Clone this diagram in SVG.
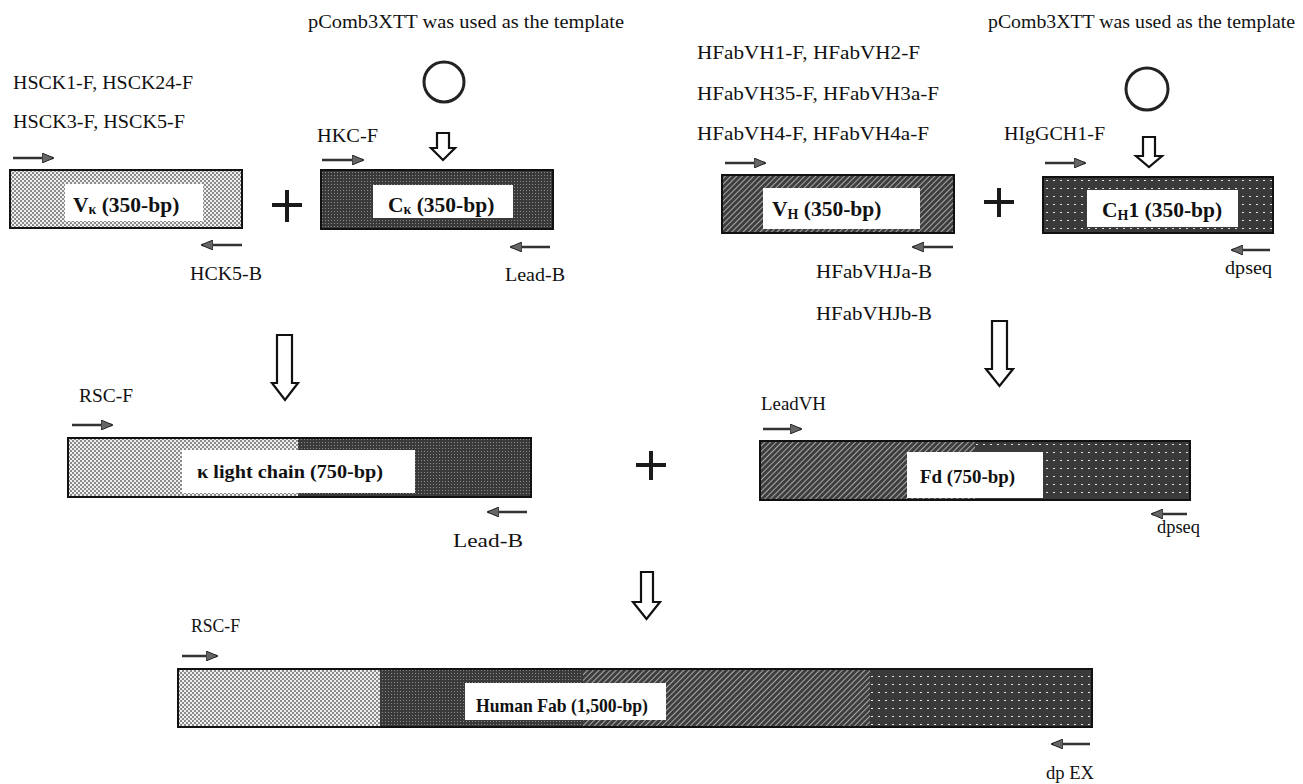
<svg xmlns="http://www.w3.org/2000/svg" width="1303" height="784" viewBox="0 0 1303 784">
<style>
.t{font-family:"Liberation Serif","Times New Roman",serif;font-size:19px;fill:#111}
.b{font-family:"Liberation Serif","Times New Roman",serif;font-size:19px;font-weight:bold;fill:#111}
.bs{font-family:"Liberation Serif","Times New Roman",serif;font-size:21.5px;font-weight:bold;fill:#111}
.sub{font-size:14px}
.box{fill:none;stroke:#111;stroke-width:2}
.inset{fill:#fff}
.pr{stroke:#333;stroke-width:2.5;fill:none;marker-end:url(#ah)}
.hol{fill:#fff;stroke:#111;stroke-width:2.2;stroke-linejoin:miter}
.plus{stroke:#1a1a1a;stroke-width:4;fill:none}
.circ{fill:none;stroke:#222;stroke-width:3}
</style>
<defs>
<marker id="ah" viewBox="0 0 12 10" refX="11" refY="5" markerWidth="12" markerHeight="10" markerUnits="userSpaceOnUse" orient="auto">
<path d="M0,0 L12,5 L0,10 Z" fill="#666" stroke="#222" stroke-width="1"/>
</marker>
<pattern id="stip" width="4" height="4" patternUnits="userSpaceOnUse">
<rect width="4" height="4" fill="#efefef"/>
<rect x="0" y="0" width="2" height="2" fill="#8c8c8c"/>
<rect x="2" y="2" width="2" height="2" fill="#8c8c8c"/>
</pattern>
<pattern id="dark" width="3" height="3" patternUnits="userSpaceOnUse">
<rect width="3" height="3" fill="#3a3a3a"/>
<rect x="1" y="1" width="1" height="1" fill="#8a8a8a"/>
</pattern>
<pattern id="hatch" width="4" height="4" patternUnits="userSpaceOnUse" patternTransform="rotate(45)">
<rect width="4" height="4" fill="#3e3e3e"/>
<rect x="1" y="0" width="1" height="4" fill="#a8a8a8"/>
</pattern>
<pattern id="dots" width="7" height="8" patternUnits="userSpaceOnUse">
<rect width="7" height="8" fill="#3a3a3a"/>
<rect x="3" y="4" width="2" height="1" fill="#e6e6e6"/>
</pattern>
</defs>

<g id="template-left">
<text class="t" x="308" y="28" textLength="316" lengthAdjust="spacingAndGlyphs">pComb3XTT was used as the template</text>
<circle class="circ" cx="444" cy="82" r="20"/>
</g>
<g id="template-right">
<text class="t" x="988" y="28" textLength="307" lengthAdjust="spacingAndGlyphs">pComb3XTT was used as the template</text>
<circle class="circ" cx="1147" cy="89" r="21"/>
</g>

<g id="vk">
<text class="t" x="13" y="89" textLength="180" lengthAdjust="spacingAndGlyphs">HSCK1-F, HSCK24-F</text>
<text class="t" x="13" y="128" textLength="172" lengthAdjust="spacingAndGlyphs">HSCK3-F, HSCK5-F</text>
<line class="pr" x1="13" y1="158" x2="53" y2="158"/>
<rect x="10" y="170" width="232" height="58" fill="url(#stip)"/>
<rect class="inset" x="65" y="184" width="138" height="37"/>
<rect class="box" x="10" y="170" width="232" height="58"/>
<text class="bs" x="73" y="212">V<tspan class="sub" dy="2">κ</tspan><tspan dy="-2"> (350-bp)</tspan></text>
<line class="pr" x1="242" y1="245" x2="202" y2="245"/>
<text class="t" x="190" y="280" textLength="72" lengthAdjust="spacingAndGlyphs">HCK5-B</text>
</g>

<g id="ck">
<text class="t" x="317" y="142" textLength="61" lengthAdjust="spacingAndGlyphs">HKC-F</text>
<line class="pr" x1="322" y1="160" x2="363" y2="160"/>
<rect x="321" y="170" width="232" height="59" fill="url(#dark)"/>
<rect class="inset" x="373" y="185" width="140" height="33"/>
<rect class="box" x="321" y="170" width="232" height="59"/>
<text class="bs" x="388" y="212">C<tspan class="sub" dy="2">κ</tspan><tspan dy="-2"> (350-bp)</tspan></text>
<line class="pr" x1="550" y1="247" x2="511" y2="247"/>
<text class="t" x="505" y="281" textLength="60" lengthAdjust="spacingAndGlyphs">Lead-B</text>
</g>

<g id="vh">
<text class="t" x="697" y="59" textLength="223" lengthAdjust="spacingAndGlyphs">HFabVH1-F, HFabVH2-F</text>
<text class="t" x="697" y="100" textLength="242" lengthAdjust="spacingAndGlyphs">HFabVH35-F, HFabVH3a-F</text>
<text class="t" x="697" y="140" textLength="232" lengthAdjust="spacingAndGlyphs">HFabVH4-F, HFabVH4a-F</text>
<line class="pr" x1="725" y1="163" x2="765" y2="163"/>
<rect x="722" y="175" width="232" height="58" fill="url(#hatch)"/>
<rect class="inset" x="763" y="188" width="157" height="41"/>
<rect class="box" x="722" y="175" width="232" height="58"/>
<text class="bs" x="772" y="216">V<tspan class="sub" dy="3">H</tspan><tspan dy="-3"> (350-bp)</tspan></text>
<line class="pr" x1="953" y1="247" x2="913" y2="247"/>
<text class="t" x="816" y="278" textLength="116" lengthAdjust="spacingAndGlyphs">HFabVHJa-B</text>
<text class="t" x="816" y="320" textLength="116" lengthAdjust="spacingAndGlyphs">HFabVHJb-B</text>
</g>

<g id="ch1">
<text class="t" x="1004" y="140" textLength="101" lengthAdjust="spacingAndGlyphs">HIgGCH1-F</text>
<line class="pr" x1="1045" y1="163" x2="1085" y2="163"/>
<rect x="1043" y="177" width="230" height="56" fill="url(#dots)"/>
<rect class="inset" x="1087" y="190" width="151" height="37"/>
<rect class="box" x="1043" y="177" width="230" height="56"/>
<text class="bs" x="1102" y="217">C<tspan class="sub" dy="3">H</tspan><tspan dy="-3">1 (350-bp)</tspan></text>
<line class="pr" x1="1270" y1="250" x2="1232" y2="250"/>
<text class="t" x="1225" y="274" textLength="47" lengthAdjust="spacingAndGlyphs">dpseq</text>
</g>

<g id="light-chain">
<text class="t" x="79" y="402" textLength="54" lengthAdjust="spacingAndGlyphs">RSC-F</text>
<line class="pr" x1="72" y1="425" x2="112" y2="425"/>
<rect x="68" y="438" width="230" height="59" fill="url(#stip)"/>
<rect x="298" y="438" width="233" height="59" fill="url(#dark)"/>
<rect class="inset" x="182" y="450" width="233" height="43"/>
<rect class="box" x="68" y="438" width="463" height="59"/>
<text class="b" x="197" y="478" textLength="186" lengthAdjust="spacingAndGlyphs">κ light chain (750-bp)</text>
<line class="pr" x1="527" y1="512" x2="488" y2="512"/>
<text class="t" x="453" y="547" textLength="70" lengthAdjust="spacingAndGlyphs">Lead-B</text>
</g>

<g id="fd">
<text class="t" x="761" y="410" textLength="65" lengthAdjust="spacingAndGlyphs">LeadVH</text>
<line class="pr" x1="763" y1="429" x2="801" y2="429"/>
<rect x="760" y="441" width="215" height="59" fill="url(#hatch)"/>
<rect x="975" y="441" width="215" height="59" fill="url(#dots)"/>
<rect class="inset" x="907" y="452" width="136" height="46"/>
<rect class="box" x="760" y="441" width="430" height="59"/>
<text class="b" x="920" y="483" textLength="95" lengthAdjust="spacingAndGlyphs">Fd (750-bp)</text>
<line class="pr" x1="1187" y1="514" x2="1152" y2="514"/>
<text class="t" x="1157" y="533" textLength="43" lengthAdjust="spacingAndGlyphs">dpseq</text>
</g>

<g id="human-fab">
<text class="t" x="191" y="632" textLength="49" lengthAdjust="spacingAndGlyphs">RSC-F</text>
<line class="pr" x1="182" y1="656" x2="217" y2="656"/>
<rect x="178" y="669" width="202" height="58" fill="url(#stip)"/>
<rect x="380" y="669" width="203" height="58" fill="url(#dark)"/>
<rect x="583" y="669" width="287" height="58" fill="url(#hatch)"/>
<rect x="870" y="669" width="222" height="58" fill="url(#dots)"/>
<rect class="inset" x="465" y="683" width="201" height="37"/>
<rect class="box" x="178" y="669" width="914" height="58"/>
<text class="b" x="476" y="712" textLength="172" lengthAdjust="spacingAndGlyphs">Human Fab (1,500-bp)</text>
<line class="pr" x1="1090" y1="744" x2="1052" y2="744"/>
<text class="t" x="1046" y="779" textLength="48" lengthAdjust="spacingAndGlyphs">dp EX</text>
</g>

<g id="connectors">
<polygon class="hol" points="437,133 449,133 449,148 455,148 443,160 431,148 437,148"/>
<polygon class="hol" points="1143,137 1155,137 1155,156 1162,156 1149,167 1136,156 1143,156"/>
<polygon class="hol" points="277,335 292,335 292,383 298,383 285,400 272,383 277,383"/>
<polygon class="hol" points="992,321 1007,321 1007,369 1013,369 999.5,386 986,369 992,369"/>
<polygon class="hol" points="641,572 653,572 653,602 660,602 646.5,619 633,602 641,602"/>
<path class="plus" d="M272,205 H302 M287,190 V222"/>
<path class="plus" d="M984,202 H1014 M999,188 V217"/>
<path class="plus" d="M636,465 H666 M651,451 V480"/>
</g>
</svg>
